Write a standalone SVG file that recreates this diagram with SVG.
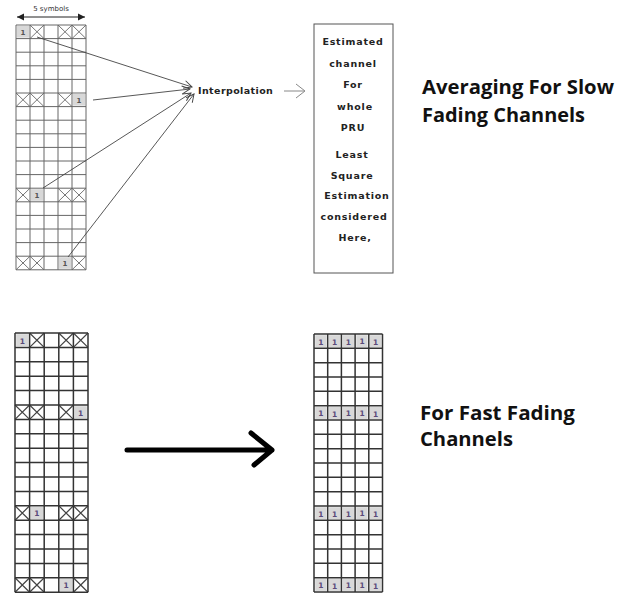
<svg xmlns="http://www.w3.org/2000/svg" width="623" height="595" viewBox="0 0 623 595">
<style>
.bg{fill:#fff}
.gt{fill:none;stroke:#666;stroke-width:1}
.gb{fill:none;stroke:#333;stroke-width:1.5}
.xt{fill:none;stroke:#777;stroke-width:1}
.xb{fill:none;stroke:#444;stroke-width:1.2}
.pc{fill:#d8d8d8}
.one{font-family:"DejaVu Sans",sans-serif;font-size:7px;font-weight:bold;fill:#555;text-anchor:middle}
.oneb{font-family:"DejaVu Sans",sans-serif;font-size:7.5px;font-weight:bold;fill:#5a4a7a;text-anchor:middle}
.lbl{font-family:"DejaVu Sans",sans-serif;font-size:9.5px;font-weight:bold;fill:#222;letter-spacing:0.4px}
.box{font-family:"DejaVu Sans",sans-serif;font-size:9.5px;font-weight:bold;fill:#222;text-anchor:middle;letter-spacing:0.8px}
.big{font-family:"Open Sans","Liberation Sans",sans-serif;font-size:19.5px;font-weight:bold;fill:#111}
.sm{font-family:"DejaVu Sans",sans-serif;font-size:7px;fill:#333;text-anchor:middle}
.conn{fill:none;stroke:#444;stroke-width:0.9}
</style>
<defs>
<marker id="oa" markerWidth="10" markerHeight="10" refX="9" refY="5" orient="auto" markerUnits="userSpaceOnUse">
<path d="M1,1 L9,5 L1,9" fill="none" stroke="#444" stroke-width="1"/>
</marker>
<marker id="sa" markerWidth="8" markerHeight="8" refX="7" refY="4" orient="auto-start-reverse" markerUnits="userSpaceOnUse">
<path d="M0,0.5 L7,4 L0,7.5 Z" fill="#222"/>
</marker>
</defs>
<rect class="bg" x="0" y="0" width="623" height="595"/>

<g id="top-grid">
<text class="sm" x="51" y="11">5 symbols</text>
<line x1="17" y1="17" x2="85" y2="17" stroke="#222" stroke-width="1" marker-start="url(#sa)" marker-end="url(#sa)"/>
<g id="top-pilots">
<rect class="pc" x="17" y="26" width="12" height="11.6"/>
<rect class="pc" x="73" y="94" width="12" height="11.6"/>
<rect class="pc" x="31" y="189.2" width="12" height="11.6"/>
<rect class="pc" x="59" y="257.2" width="12" height="11.6"/>
<text class="one" x="23" y="34.5">1</text>
<text class="one" x="79" y="102.5">1</text>
<text class="one" x="37" y="197.7">1</text>
<text class="one" x="65" y="265.7">1</text>
</g>
<path class="xt" d="M30,25L44,38.6M44,25L30,38.6 M58,25L72,38.6M72,25L58,38.6 M72,25L86,38.6M86,25L72,38.6
M16,93L30,106.6M30,93L16,106.6 M30,93L44,106.6M44,93L30,106.6 M58,93L72,106.6M72,93L58,106.6
M16,188.2L30,201.8M30,188.2L16,201.8 M58,188.2L72,201.8M72,188.2L58,201.8 M72,188.2L86,201.8M86,188.2L72,201.8
M16,256.2L30,269.8M30,256.2L16,269.8 M30,256.2L44,269.8M44,256.2L30,269.8 M72,256.2L86,269.8M86,256.2L72,269.8"/>
<path class="gt" d="M16,25V269.8M30,25V269.8M44,25V269.8M58,25V269.8M72,25V269.8M86,25V269.8
M16,25H86M16,38.6H86M16,52.2H86M16,65.8H86M16,79.4H86M16,93H86M16,106.6H86M16,120.2H86M16,133.8H86M16,147.4H86M16,161H86M16,174.6H86M16,188.2H86M16,201.8H86M16,215.4H86M16,229H86M16,242.6H86M16,256.2H86M16,269.8H86"/>
</g>

<g id="interpolation">
<text class="lbl" x="198" y="94">Interpolation</text>
</g>

<g id="estimate-box">
<rect x="314" y="24" width="79" height="249" fill="#fff" stroke="#555" stroke-width="1"/>
<text class="box" x="353" y="45">Estimated</text>
<text class="box" x="353" y="67">channel</text>
<text class="box" x="353" y="88">For</text>
<text class="box" x="355" y="110">whole</text>
<text class="box" x="353" y="131">PRU</text>
<text class="box" x="352" y="158">Least</text>
<text class="box" x="352" y="179">Square</text>
<text class="box" x="357" y="199">Estimation</text>
<text class="box" x="354" y="220">considered</text>
<text class="box" x="355" y="241">Here,</text>
</g>

<g id="slow-label">
<text class="big" x="422" y="94" textLength="192" lengthAdjust="spacingAndGlyphs">Averaging For Slow</text>
<text class="big" x="422" y="122" textLength="163" lengthAdjust="spacingAndGlyphs">Fading Channels</text>
</g>

<g id="bottom-left-grid">
<rect class="pc" x="16.2" y="334.2" width="12.2" height="12"/>
<rect class="pc" x="74.6" y="406.2" width="12.2" height="12"/>
<rect class="pc" x="30.8" y="507" width="12.2" height="12"/>
<rect class="pc" x="60" y="579" width="12.2" height="12"/>
<text class="oneb" x="22.3" y="343.5">1</text>
<text class="oneb" x="80.7" y="415.5">1</text>
<text class="oneb" x="36.9" y="516.3">1</text>
<text class="oneb" x="66.1" y="588.3">1</text>
<path class="xb" d="M29.6,333L44.2,347.4M44.2,333L29.6,347.4 M58.8,333L73.4,347.4M73.4,333L58.8,347.4 M73.4,333L88,347.4M88,333L73.4,347.4
M15,405L29.6,419.4M29.6,405L15,419.4 M29.6,405L44.2,419.4M44.2,405L29.6,419.4 M58.8,405L73.4,419.4M73.4,405L58.8,419.4
M15,505.8L29.6,520.2M29.6,505.8L15,520.2 M58.8,505.8L73.4,520.2M73.4,505.8L58.8,520.2 M73.4,505.8L88,520.2M88,505.8L73.4,520.2
M15,577.8L29.6,592.2M29.6,577.8L15,592.2 M29.6,577.8L44.2,592.2M44.2,577.8L29.6,592.2 M73.4,577.8L88,592.2M88,577.8L73.4,592.2"/>
<path class="gb" d="M15,333V592.2M29.6,333V592.2M44.2,333V592.2M58.8,333V592.2M73.4,333V592.2M88,333V592.2
M15,333H88M15,347.4H88M15,361.8H88M15,376.2H88M15,390.6H88M15,405H88M15,419.4H88M15,433.8H88M15,448.2H88M15,462.6H88M15,477H88M15,491.4H88M15,505.8H88M15,520.2H88M15,534.6H88M15,549H88M15,563.4H88M15,577.8H88M15,592.2H88"/>
</g>

<g id="bottom-right-grid">
<g fill="#d8d8d8">
<rect x="315.2" y="335.2" width="11.3" height="12"/><rect x="328.9" y="335.2" width="11.3" height="12"/><rect x="342.6" y="335.2" width="11.3" height="12"/><rect x="356.3" y="335.2" width="11.3" height="12"/><rect x="370" y="335.2" width="11.3" height="12"/>
<rect x="315.2" y="406.9" width="11.3" height="12"/><rect x="328.9" y="406.9" width="11.3" height="12"/><rect x="342.6" y="406.9" width="11.3" height="12"/><rect x="356.3" y="406.9" width="11.3" height="12"/><rect x="370" y="406.9" width="11.3" height="12"/>
<rect x="315.2" y="507.2" width="11.3" height="12"/><rect x="328.9" y="507.2" width="11.3" height="12"/><rect x="342.6" y="507.2" width="11.3" height="12"/><rect x="356.3" y="507.2" width="11.3" height="12"/><rect x="370" y="507.2" width="11.3" height="12"/>
<rect x="315.2" y="578.9" width="11.3" height="12"/><rect x="328.9" y="578.9" width="11.3" height="12"/><rect x="342.6" y="578.9" width="11.3" height="12"/><rect x="356.3" y="578.9" width="11.3" height="12"/><rect x="370" y="578.9" width="11.3" height="12"/>
</g>
<g class="oneb">
<text x="320.9" y="344.5">1</text><text x="334.6" y="345">1</text><text x="348.3" y="344.5">1</text><text x="362" y="344">1</text><text x="375.7" y="345">1</text>
<text x="320.9" y="416.2">1</text><text x="334.6" y="416.7">1</text><text x="348.3" y="416.2">1</text><text x="362" y="415.7">1</text><text x="375.7" y="416.7">1</text>
<text x="320.9" y="516.5">1</text><text x="334.6" y="517">1</text><text x="348.3" y="516.5">1</text><text x="362" y="516">1</text><text x="375.7" y="517">1</text>
<text x="320.9" y="588.2">1</text><text x="334.6" y="588.7">1</text><text x="348.3" y="588.2">1</text><text x="362" y="587.7">1</text><text x="375.7" y="588.7">1</text>
</g>
<path class="gb" d="M314,334V592M327.7,334V592M341.4,334V592M355.1,334V592M368.8,334V592M382.5,334V592
M314,334H382.5M314,348.33H382.5M314,362.67H382.5M314,377H382.5M314,391.33H382.5M314,405.67H382.5M314,420H382.5M314,434.33H382.5M314,448.67H382.5M314,463H382.5M314,477.33H382.5M314,491.67H382.5M314,506H382.5M314,520.33H382.5M314,534.67H382.5M314,549H382.5M314,563.33H382.5M314,577.67H382.5M314,592H382.5"/>
</g>

<g id="fast-label">
<text class="big" x="420" y="420" textLength="155" lengthAdjust="spacingAndGlyphs">For Fast Fading</text>
<text class="big" x="420" y="446" textLength="93" lengthAdjust="spacingAndGlyphs">Channels</text>
</g>

<g id="connectors">
<line class="conn" x1="37" y1="37" x2="192" y2="87" marker-end="url(#oa)"/>
<line class="conn" x1="93" y1="100" x2="190" y2="89" marker-end="url(#oa)"/>
<line class="conn" x1="43" y1="188" x2="191" y2="93" marker-end="url(#oa)"/>
<line class="conn" x1="68" y1="257" x2="194" y2="94" marker-end="url(#oa)"/>
<path d="M284,91H304M296,84L305,91L296,98" fill="none" stroke="#888" stroke-width="1"/>
<path d="M127,450H272M251,433L272,450L254,465" fill="none" stroke="#000" stroke-width="5" stroke-linecap="round" stroke-linejoin="round"/>
</g>
</svg>
